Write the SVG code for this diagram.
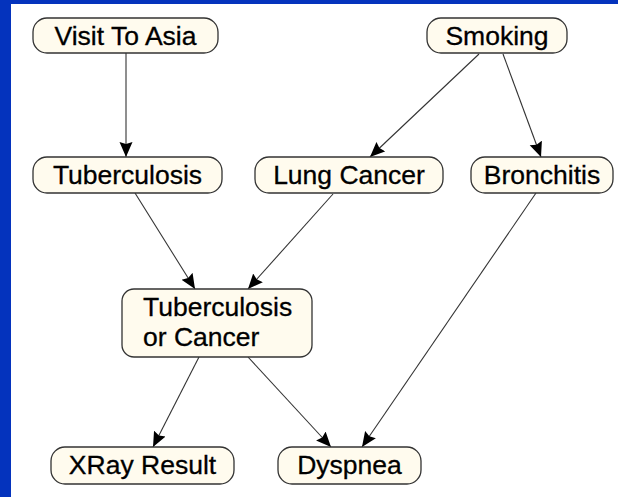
<svg xmlns="http://www.w3.org/2000/svg" width="618" height="497" viewBox="0 0 618 497">
  <style>
    .node rect { fill: #fffbee; stroke: #333333; stroke-width: 1.3; }
    .node text { font-family: "Liberation Sans", Arial, sans-serif; font-size: 26.5px; fill: #000000; stroke: #000000; stroke-width: 0.3; }
    .c text { text-anchor: middle; }
    #edges line { stroke: #333333; stroke-width: 1.1; marker-end: url(#arrow); }
  </style>
  <defs>
    <marker id="arrow" markerUnits="userSpaceOnUse" markerWidth="16" markerHeight="14" viewBox="0 0 16 14" refX="15" refY="7" orient="auto">
      <path d="M0,0.5 L15,7 L0,13.5 L2,7 Z" fill="#000000"/>
    </marker>
  </defs>

  <!-- slide background and canvas -->
  <rect x="0" y="0" width="618" height="497" fill="#0433bd"/>
  <rect x="11" y="4" width="607" height="493" fill="#ffffff"/>

  <!-- connectors -->
  <g id="edges">
    <line x1="126" y1="53" x2="126" y2="157"/>
    <line x1="479" y1="54" x2="370" y2="157"/>
    <line x1="503" y1="54" x2="541" y2="157"/>
    <line x1="135" y1="193" x2="195" y2="289"/>
    <line x1="333" y1="194" x2="248" y2="289"/>
    <line x1="536" y1="193" x2="362" y2="447"/>
    <line x1="199" y1="357" x2="153" y2="447"/>
    <line x1="248" y1="357" x2="331" y2="447"/>
  </g>

  <!-- nodes -->
  <g id="visit-to-asia" class="node c">
    <rect x="33" y="18" width="185" height="35" rx="14" ry="14"/>
    <text x="125.5" y="44.5">Visit To Asia</text>
  </g>
  <g id="smoking" class="node c">
    <rect x="427" y="18" width="140" height="35" rx="14" ry="14"/>
    <text x="497" y="44.5">Smoking</text>
  </g>
  <g id="tuberculosis" class="node c">
    <rect x="33" y="157" width="189" height="36" rx="14" ry="14"/>
    <text x="127.5" y="184">Tuberculosis</text>
  </g>
  <g id="lung-cancer" class="node c">
    <rect x="255" y="157" width="188" height="36" rx="14" ry="14"/>
    <text x="349" y="184">Lung Cancer</text>
  </g>
  <g id="bronchitis" class="node c">
    <rect x="471" y="157" width="142" height="36" rx="14" ry="14"/>
    <text x="542" y="184">Bronchitis</text>
  </g>
  <g id="tuberculosis-or-cancer" class="node">
    <rect x="122" y="289" width="190" height="68" rx="12" ry="12"/>
    <text x="143" y="315.5">Tuberculosis</text>
    <text x="143" y="345.5">or Cancer</text>
  </g>
  <g id="xray-result" class="node c">
    <rect x="51" y="447" width="183" height="37" rx="14" ry="14"/>
    <text x="142.5" y="474">XRay Result</text>
  </g>
  <g id="dyspnea" class="node c">
    <rect x="278" y="447" width="143" height="37" rx="14" ry="14"/>
    <text x="349.5" y="474">Dyspnea</text>
  </g>
</svg>
